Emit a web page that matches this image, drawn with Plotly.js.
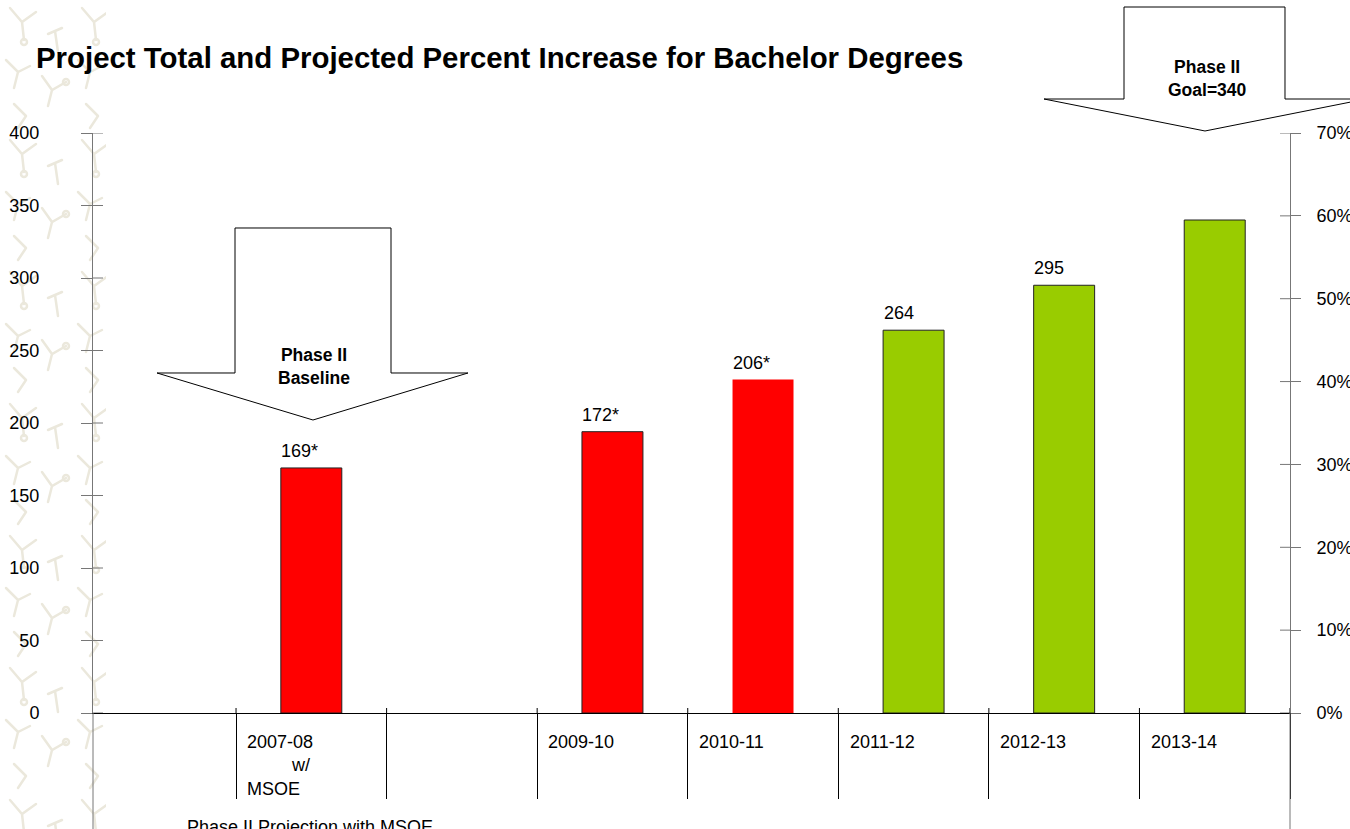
<!DOCTYPE html>
<html>
<head>
<meta charset="utf-8">
<script src="https://cdn.plot.ly/plotly-3.0.1.min.js"></script>
<style>html,body{margin:0;padding:0;background:#fff;}#chart{width:1350px;height:829px;}</style>
</head>
<body>
<div id="chart"></div>
<script>
// ---- data ----
var categories = ['2007-08', '2008-09', '2009-10', '2010-11', '2011-12', '2012-13', '2013-14'];
var degrees = [169, null, 194, 230, 264, 295, 340];
var valueLabels = ['169*', '', '172*', '206*', '264', '295', ''];
var NB = '\u00a0';
var tickLabels = ['2007-08<br>' + NB.repeat(9) + 'w/<br>MSOE', '', '2009-10', '2010-11', '2011-12', '2012-13', '2013-14'];
var barColors = ['#FF0000', '#FF0000', '#FF0000', '#FF0000', '#99CC00', '#99CC00', '#99CC00'];
var outlineWidths = [1, 1, 1, 0, 1, 1, 1];
var leftTicks = [0, 50, 100, 150, 200, 250, 300, 350, 400];
var rightTicks = [0, 0.1, 0.2, 0.3, 0.4, 0.5, 0.6, 0.7];
var titleText = 'Project Total and Projected Percent Increase for Bachelor Degrees';
var footText = 'Phase II Projection with MSOE';
var baselineArrowText = 'Phase II<br>Baseline';
var goalArrowText = 'Phase II<br>Goal=340';

// ---- layout geometry (pixels) ----
var W = 1350, H = 829;
var M = {l: 93, r: 60, t: 133, b: 116};
var PW = W - M.l - M.r, PH = H - M.t - M.b;
function px(x) { return (x - M.l) / PW; }
function py(y) { return (M.t + PH - y) / PH; }
function arrowPath(pts) {
  return 'M' + pts.map(function (p) { return px(p[0]).toFixed(5) + ',' + py(p[1]).toFixed(5); }).join(' L') + ' Z';
}
var FONT = 'Liberation Sans, Arial, sans-serif';

// decorative beige strip at the left edge (background artwork)
var motif =
  "<g fill='none' stroke='%23ebe8dc' stroke-width='2.5' stroke-linecap='round'>" +
  "<path d='M10 8 L22 22 L36 12 M22 22 L24 40'/><circle cx='24' cy='42' r='3'/>" +
  "<path d='M48 34 L62 28 M55 31 L58 52'/>" +
  "<path d='M6 60 L18 72 L30 66 M18 72 L14 88'/>" +
  "<path d='M42 76 L52 90 L66 82 M52 90 L48 106'/><circle cx='66' cy='82' r='3'/>" +
  "<path d='M14 104 L26 116 M26 116 L18 128'/>" +
  "</g>";
var bgSvg = "<svg xmlns='http://www.w3.org/2000/svg' width='106' height='829'>" +
  "<defs><pattern id='p' width='72' height='132' patternUnits='userSpaceOnUse'>" + motif +
  "</pattern></defs><rect width='106' height='829' fill='url(%23p)'/></svg>";
var bgSrc = 'data:image/svg+xml;utf8,' + bgSvg;

var traces = [{
  type: 'bar',
  x: categories,
  y: degrees,
  width: 0.405,
  marker: {color: barColors, line: {color: '#222', width: outlineWidths}},
  hoverinfo: 'skip',
  showlegend: false
}, {
  type: 'scatter', x: [], y: [], yaxis: 'y2', hoverinfo: 'skip', showlegend: false
}];

var annotations = [];
categories.forEach(function (c, i) {
  if (valueLabels[i]) {
    annotations.push({
      x: c, y: degrees[i], xref: 'x', yref: 'y', text: valueLabels[i],
      showarrow: false, xanchor: 'left', yanchor: 'bottom', xshift: -32, yshift: 5,
      font: {family: FONT, size: 18, color: '#000'}
    });
  }
  if (tickLabels[i]) {
    annotations.push({
      x: c, y: 0, xref: 'x', yref: 'paper', text: tickLabels[i], align: 'left',
      showarrow: false, xanchor: 'left', yanchor: 'top', xshift: -66, yshift: -17,
      font: {family: FONT, size: 18, color: '#000'}
    });
  }
});
annotations.push({
  x: 0, y: 0, xref: 'paper', yref: 'paper', text: footText, showarrow: false,
  xanchor: 'left', yanchor: 'top', xshift: 92, yshift: -102,
  font: {family: FONT, size: 18, color: '#000'}
});
annotations.push({
  x: px(314), y: py(366), xref: 'paper', yref: 'paper', text: '<b>' + baselineArrowText + '</b>',
  showarrow: false, xanchor: 'center', yanchor: 'middle', align: 'center',
  font: {family: FONT, size: 17.5, color: '#000'}
});
annotations.push({
  x: px(1207), y: py(79), xref: 'paper', yref: 'paper', text: '<b>' + goalArrowText + '</b>',
  showarrow: false, xanchor: 'center', yanchor: 'middle', align: 'center',
  font: {family: FONT, size: 17.5, color: '#000'}
});

var shapes = [
  // y axes continue below the category axis
  {type: 'line', xref: 'paper', yref: 'paper', x0: 0, x1: 0, y0: 0, y1: py(H + 5), line: {color: '#777', width: 1}},
  {type: 'line', xref: 'paper', yref: 'paper', x0: 1, x1: 1, y0: 0, y1: py(H + 5), line: {color: '#777', width: 1}},
  // block arrows
  {type: 'path', xref: 'paper', yref: 'paper', layer: 'above',
   path: arrowPath([[235, 228], [391, 228], [391, 373], [468, 373], [313, 420], [157, 373], [235, 373]]),
   fillcolor: '#fff', line: {color: '#000', width: 1}},
  {type: 'path', xref: 'paper', yref: 'paper', layer: 'above',
   path: arrowPath([[1124, 7], [1285, 7], [1285, 99], [1366, 99], [1205, 131], [1044, 99], [1124, 99]]),
   fillcolor: '#fff', line: {color: '#000', width: 1}}
];
// inner halves of the crossing axis ticks
leftTicks.forEach(function (v) {
  shapes.push({type: 'line', xref: 'paper', yref: 'y', x0: 0, x1: px(103), y0: v, y1: v,
    line: {color: '#777', width: 1}});
});
rightTicks.forEach(function (v) {
  shapes.push({type: 'line', xref: 'paper', yref: 'y2', x0: px(1280), x1: 1, y0: v, y1: v,
    line: {color: '#777', width: 1}});
});
categories.concat(['end']).forEach(function (c, i) {
  shapes.push({type: 'line', xref: 'x', yref: 'paper', x0: i - 0.5, x1: i - 0.5, y0: 0, y1: 5 / PH,
    line: {color: '#000', width: 1}});
});

var layout = {
  width: W, height: H,
  margin: {l: M.l, r: M.r, t: M.t, b: M.b, pad: 0},
  paper_bgcolor: '#fff', plot_bgcolor: 'rgba(0,0,0,0)',
  font: {family: FONT, size: 18, color: '#000'},
  showlegend: false,
  hovermode: false,
  images: [{
    source: bgSrc, xref: 'paper', yref: 'paper', x: px(0), y: py(0),
    sizex: 106 / PW, sizey: H / PH, sizing: 'stretch', xanchor: 'left', yanchor: 'top', layer: 'below'
  }],
  title: {
    text: '<b>' + titleText + '</b>', x: 36 / W, xanchor: 'left', xref: 'container',
    y: 1 - 58 / H, yanchor: 'middle', yref: 'container',
    font: {family: FONT, size: 29.4, color: '#000'}
  },
  xaxis: {
    type: 'category', categoryorder: 'array', categoryarray: categories,
    range: [-1.45, 6.5], tickson: 'boundaries', ticks: 'outside', ticklen: 85,
    tickcolor: '#000', tickwidth: 1, showticklabels: false,
    showline: true, linecolor: '#000', linewidth: 1, showgrid: false, zeroline: false, fixedrange: true
  },
  yaxis: {
    range: [0, 400], tickvals: leftTicks, ticks: 'outside', ticklen: 11, tickcolor: '#777',
    showline: true, linecolor: '#777', linewidth: 1, showgrid: false, zeroline: false,
    ticklabelstandoff: 38, tickfont: {family: FONT, size: 18, color: '#000'}, fixedrange: true
  },
  yaxis2: {
    overlaying: 'y', side: 'right', range: [0, 0.7], tickvals: rightTicks, tickformat: '.0%',
    ticks: 'outside', ticklen: 10, tickcolor: '#777', showline: true, linecolor: '#777', linewidth: 1,
    showgrid: false, zeroline: false, ticklabelstandoff: 12,
    tickfont: {family: FONT, size: 18, color: '#000'}, fixedrange: true
  },
  annotations: annotations,
  shapes: shapes
};

Plotly.newPlot('chart', traces, layout, {displayModeBar: false, staticPlot: true});
</script>
</body>
</html>
